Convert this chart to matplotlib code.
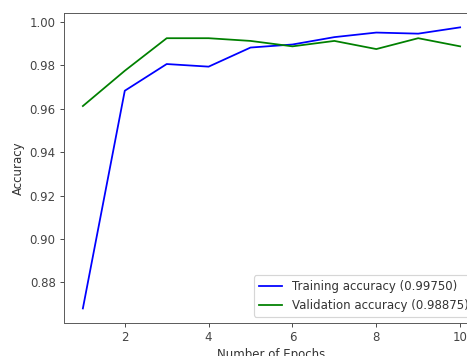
import matplotlib
matplotlib.use("Agg")
import matplotlib.pyplot as plt

epochs = [1, 2, 3, 4, 5, 6, 7, 8, 9, 10]
train_acc = [0.8680, 0.9683, 0.9806, 0.9794, 0.9882, 0.9896, 0.9930, 0.9951, 0.9946, 0.9975]
val_acc = [0.96125, 0.9775, 0.9925, 0.9925, 0.99125, 0.98875, 0.99125, 0.9875, 0.9925, 0.98875]

W, H = 467, 356
DPI = 85
plt.rcParams.update({
    "text.color": "#333333",
    "axes.labelcolor": "#333333",
    "xtick.color": "#444444",
    "ytick.color": "#444444",
    "axes.edgecolor": "#555555",
})
fig = plt.figure(figsize=(W / DPI, H / DPI), dpi=DPI)
left, right = 64 / W, 479 / W
top, bottom = 1 - 13.3 / H, 1 - 322.5 / H
ax = fig.add_axes([left, bottom, right - left, top - bottom])

ax.plot(epochs, train_acc, color="blue", label=f"Training accuracy ({train_acc[-1]:.5f})")
ax.plot(epochs, val_acc, color="green", label=f"Validation accuracy ({val_acc[-1]:.5f})")
ax.set_xlabel("Number of Epochs")
ax.set_ylabel("Accuracy")
ax.legend(loc="lower right")

fig.savefig("out.png", dpi=DPI)
